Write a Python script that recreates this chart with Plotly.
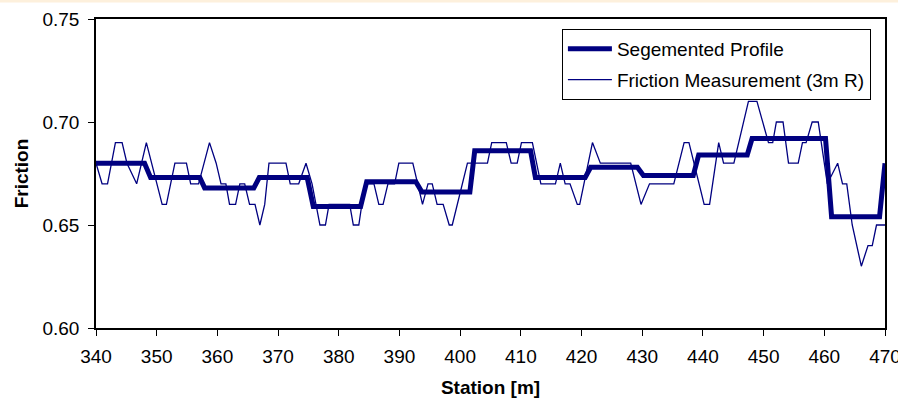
import plotly.graph_objects as go

meas_station = [340.0, 341.0, 341.9, 343.2, 344.3, 345.1, 346.7, 348.3, 350.9, 351.6,
                353.0, 354.9, 355.6, 356.9, 358.7, 359.8, 360.6, 361.4, 362.0, 363.0,
                363.7, 364.5, 365.3, 366.2, 367.0, 367.8, 368.5, 371.3, 372.0, 373.4,
                374.6, 375.6, 376.9, 377.8, 378.4, 381.8, 382.4, 383.3, 384.3, 385.8,
                386.6, 387.3, 388.1, 389.2, 389.9, 392.2, 393.8, 394.7, 395.4, 396.2,
                397.2, 398.2, 398.7, 399.5, 401.2, 404.5, 405.2, 407.6, 408.4, 409.4,
                410.1, 411.9, 413.3, 415.7, 416.5, 417.3, 418.1, 419.3, 419.7, 421.8,
                423.1, 428.1, 429.8, 431.2, 435.2, 436.9, 437.7, 440.2, 441.1, 442.6,
                443.4, 445.1, 447.5, 448.9, 449.9, 450.8, 451.5, 452.1, 453.2, 454.1,
                455.7, 456.4, 457.0, 458.0, 459.0, 460.5, 462.2, 463.0, 463.7, 464.6,
                466.1, 467.2, 467.9, 468.6, 470.0]
meas_friction = [0.68, 0.67, 0.67, 0.69, 0.69, 0.68, 0.67, 0.69, 0.66, 0.66,
                 0.68, 0.68, 0.67, 0.67, 0.69, 0.68, 0.67, 0.67, 0.66, 0.66,
                 0.67, 0.67, 0.66, 0.66, 0.65, 0.66, 0.68, 0.68, 0.67, 0.67,
                 0.68, 0.67, 0.65, 0.65, 0.66, 0.66, 0.65, 0.65, 0.67, 0.67,
                 0.66, 0.66, 0.67, 0.67, 0.68, 0.68, 0.66, 0.67, 0.67, 0.66,
                 0.66, 0.65, 0.65, 0.66, 0.68, 0.68, 0.69, 0.69, 0.68, 0.68,
                 0.69, 0.69, 0.67, 0.67, 0.68, 0.67, 0.67, 0.66, 0.66, 0.69,
                 0.68, 0.68, 0.66, 0.67, 0.67, 0.69, 0.69, 0.66, 0.66, 0.69,
                 0.68, 0.68, 0.71, 0.71, 0.70, 0.69, 0.69, 0.70, 0.70, 0.68,
                 0.68, 0.69, 0.69, 0.70, 0.70, 0.67, 0.68, 0.67, 0.67, 0.65,
                 0.63, 0.64, 0.64, 0.65, 0.65]

# Segmented profile — step corners
seg_station = [340.0, 348.0, 349.0, 357.1, 357.9, 366.0, 366.9, 374.8, 375.8, 383.6,
               384.6, 392.7, 393.7, 401.6, 402.4, 411.6, 412.4, 420.6, 421.5, 429.2,
               430.2, 438.4, 439.3, 447.3, 448.1, 460.2, 461.2, 469.1, 470.0]
seg_friction = [0.680, 0.680, 0.673, 0.673, 0.668, 0.668, 0.673, 0.673, 0.659, 0.659,
                0.671, 0.671, 0.666, 0.666, 0.686, 0.686, 0.673, 0.673, 0.678, 0.678,
                0.674, 0.674, 0.684, 0.684, 0.692, 0.692, 0.654, 0.654, 0.680]

x_ticks = [340, 350, 360, 370, 380, 390, 400, 410, 420, 430, 440, 450, 460, 470]
y_ticks = [0.60, 0.65, 0.70, 0.75]

FONT = "Liberation Sans, Arial, sans-serif"
NAVY = "#000080"
FS = 19

fig = go.Figure()
fig.add_trace(go.Scatter(x=seg_station, y=seg_friction, mode="lines",
                         name="Segemented Profile", legendgroup="a",
                         line=dict(color=NAVY, width=5)))
fig.add_trace(go.Scatter(x=meas_station, y=meas_friction, mode="lines",
                         name="Friction Measurement (3m R)", legendgroup="b",
                         line=dict(color=NAVY, width=1.3)))

fig.update_layout(
    width=898, height=398,
    margin=dict(l=96, r=13, t=19, b=70),
    paper_bgcolor="white", plot_bgcolor="white",
    font=dict(family=FONT, size=FS, color="black"),
    showlegend=True,
    legend=dict(x=0.5905, y=0.9676, xanchor="left", yanchor="top",
                bgcolor="white", bordercolor="black", borderwidth=1,
                font=dict(family=FONT, size=FS, color="black"),
                itemwidth=44,
                tracegroupgap=3, traceorder="grouped"),
    shapes=[dict(type="rect", xref="paper", yref="paper",
                 x0=-0.13, x1=1.03, y0=1.053, y1=1.07,
                 fillcolor="#FDF0DC", line=dict(width=0), layer="below")],
)
fig.update_xaxes(range=[340, 470], tickvals=x_ticks, ticktext=[str(v) for v in x_ticks],
                 showgrid=False, zeroline=False, showline=True, linecolor="black",
                 linewidth=1.5, mirror=True, ticks="outside", ticklen=6,
                 tickcolor="black", tickfont=dict(size=FS), automargin=False,
                 ticklabeloverflow="allow", ticklabelstandoff=4,
                 title=dict(text="<b>Station [m]</b>", font=dict(size=FS), standoff=22))
fig.update_yaxes(range=[0.60, 0.75], tickvals=y_ticks, ticktext=[f"{v:.2f}" for v in y_ticks],
                 showgrid=False, zeroline=False, showline=True, linecolor="black",
                 linewidth=1.5, mirror=True, ticks="outside", ticklen=6,
                 tickcolor="black", tickfont=dict(size=FS), automargin=False,
                 ticklabeloverflow="allow", ticklabelstandoff=5,
                 title=dict(text="<b>Friction</b>", font=dict(size=FS), standoff=9))

fig.write_html("out.html")
